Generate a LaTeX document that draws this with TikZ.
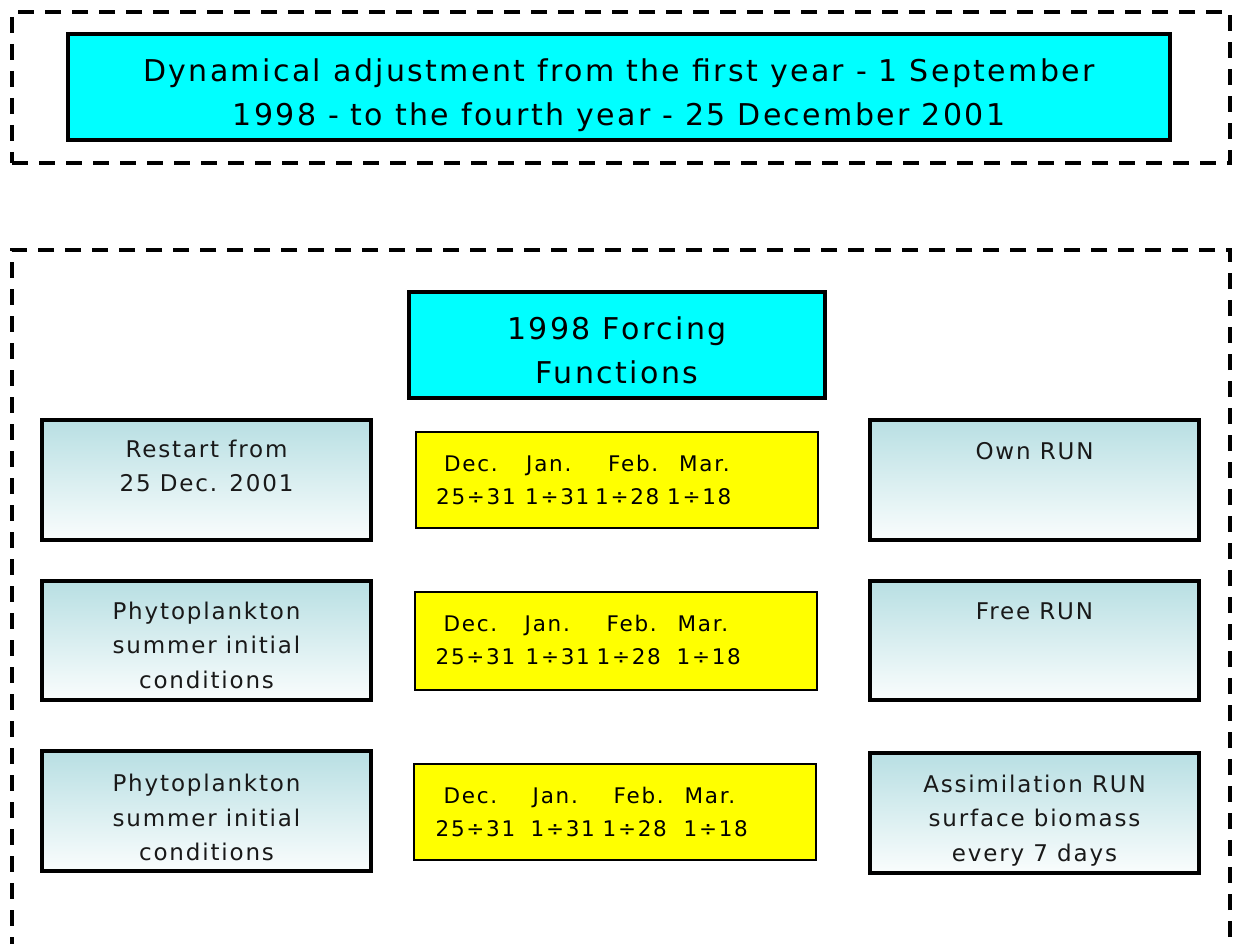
\documentclass[tikz,border=0pt]{standalone}
\usepackage{fontspec}
\setmainfont{DejaVu Sans}[LetterSpace=8]
\usetikzlibrary{calc}
\definecolor{boxcyan}{RGB}{0,255,255}
\definecolor{boxyellow}{RGB}{255,255,0}
\definecolor{tealtop}{RGB}{184,223,227}
\definecolor{tealbottom}{RGB}{250,253,253}
\definecolor{inktext}{RGB}{25,25,25}
\newcommand\yw[2]{\rlap{\hspace*{#1pt}#2}}
\begin{document}
\begin{tikzpicture}[x=1pt,y=-1pt,
  dashbox/.style={draw=black, line width=4pt, dash pattern=on 16pt off 11pt, inner sep=0pt, outer sep=0pt, anchor=north west},
  cyanbox/.style={draw=black, line width=4pt, fill=boxcyan, inner sep=0pt, outer sep=0pt},
  gradbox/.style={draw=black, line width=3.5pt, top color=tealtop, bottom color=tealbottom, minimum width=329pt, inner sep=0pt, outer sep=0pt},
  yelbox/.style={draw=black, line width=2pt, fill=boxyellow, minimum width=402pt, inner sep=0pt, outer sep=0pt},
  bigtext/.style={anchor=north, align=center, inner sep=0pt, font=\fontsize{30}{44}\selectfont},
  forcetext/.style={anchor=north, align=center, inner sep=0pt, font=\fontsize{30}{44.5}\selectfont},
  gradtext/.style={anchor=north, align=center, inner sep=0pt, text=inktext, font=\fontsize{23}{34.5}\selectfont},
  yeltext/.style={anchor=north west, align=left, inner sep=0pt, font=\fontsize{21.5}{33}\selectfont},
]
\useasboundingbox (0,0) rectangle (1234,944);
\clip (0,0) rectangle (1234,944);

% dashed containers
\node[dashbox, minimum width=1218pt, minimum height=151pt] (outerTop) at (12,12) {};
\node[dashbox, minimum width=1218pt, minimum height=900pt] (outerMain) at (12,250) {};

% title
\node[cyanbox, minimum width=1102pt, minimum height=106pt] (title) at (619,87) {};
\node[bigtext] (titleText) at ($(title.north)+(0,24.5)$)
  {Dynamical adjustment from the first year - 1 September\\1998 - to the fourth year - 25 December 2001};

% forcing
\node[cyanbox, minimum width=416pt, minimum height=106pt] (forcing) at (617,345) {};
\node[forcetext] (forcingText) at ($(forcing.north)+(0,24.5)$) {1998 Forcing\\Functions};

% left boxes
\node[gradbox, minimum height=120pt] (restart) at (206.5,480) {};
\node[gradtext] (restartText) at ($(restart.north)+(0,19.5)$) {Restart from\\25 Dec. 2001};
\node[gradbox, minimum height=119pt] (phytoA) at (206.5,640.5) {};
\node[gradtext] (phytoAText) at ($(phytoA.north)+(0,20.5)$) {Phytoplankton\\summer initial\\conditions};
\node[gradbox, minimum height=120pt] (phytoB) at (206.5,811) {};
\node[gradtext] (phytoBText) at ($(phytoB.north)+(0,23)$) {Phytoplankton\\summer initial\\conditions};

% right boxes
\node[gradbox, minimum height=120pt] (own) at (1034.5,480) {};
\node[gradtext] (ownText) at ($(own.north)+(0,22.5)$) {Own RUN};
\node[gradbox, minimum height=119pt] (free) at (1034.5,640.5) {};
\node[gradtext] (freeText) at ($(free.north)+(0,21.5)$) {Free RUN};
\node[gradbox, minimum height=120pt] (assim) at (1034.5,813) {};
\node[gradtext] (assimText) at ($(assim.north)+(0,21.5)$) {Assimilation RUN\\surface biomass\\every 7 days};

% yellow boxes
\node[yelbox, minimum height=96pt] (yelA) at (616.5,480) {};
\node[yeltext] (yelAText) at ($(yelA.north west)+(19,23)$)
  {\yw{9}{Dec.}\yw{91}{Jan.}\yw{173}{Feb.}\yw{244}{Mar.}\\\yw{1}{25÷31}\yw{90}{1÷31}\yw{160}{1÷28}\yw{232}{1÷18}};
\node[yelbox, minimum height=98pt] (yelB) at (616,641) {};
\node[yeltext] (yelBText) at ($(yelB.north west)+(19,22.5)$)
  {\yw{9}{Dec.}\yw{90}{Jan.}\yw{172}{Feb.}\yw{243}{Mar.}\\\yw{1}{25÷31}\yw{91}{1÷31}\yw{162}{1÷28}\yw{242}{1÷18}};
\node[yelbox, minimum height=96pt] (yelC) at (615,812) {};
\node[yeltext] (yelCText) at ($(yelC.north west)+(20,22.5)$)
  {\yw{9}{Dec.}\yw{98}{Jan.}\yw{179}{Feb.}\yw{250}{Mar.}\\\yw{1}{25÷31}\yw{96}{1÷31}\yw{168}{1÷28}\yw{249}{1÷18}};
\end{tikzpicture}
\end{document}
